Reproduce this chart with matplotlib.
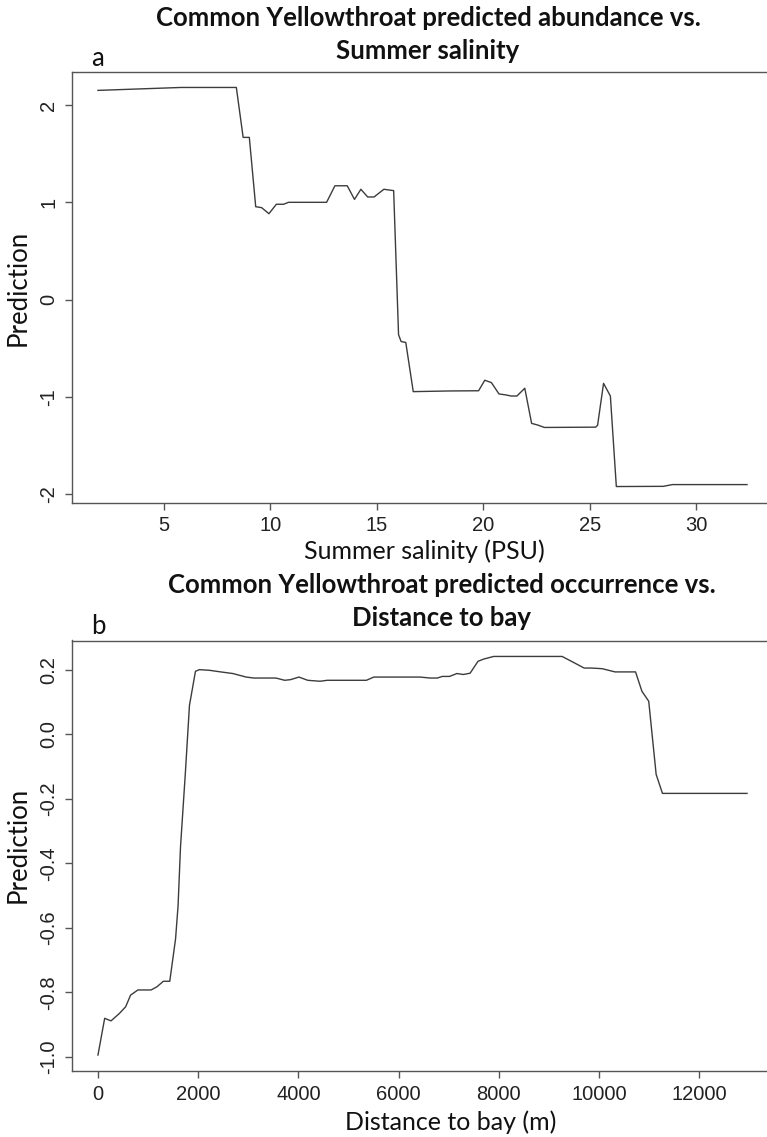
import numpy as np
import matplotlib
matplotlib.use("Agg")
import matplotlib.pyplot as plt

# panel a: summer salinity (PSU) vs predicted abundance
salinity = [1.9, 5.8, 8.4, 8.72, 9.01, 9.31, 9.59, 9.93, 10.28, 10.62, 10.85,
            12.64, 13.03, 13.61, 13.95, 14.25, 14.57, 14.87, 15.33, 15.79,
            16.02, 16.14, 16.36, 16.71, 18.43, 19.78, 20.07, 20.38, 20.74,
            21.07, 21.31, 21.58, 21.95, 22.27, 22.57, 22.87, 25.28, 25.37,
            25.65, 25.97, 26.25, 28.46, 28.88, 32.39]
abund = [2.15, 2.18, 2.18, 1.667, 1.667, 0.955, 0.945, 0.883, 0.98, 0.98, 1.0,
         1.0, 1.17, 1.17, 1.03, 1.134, 1.055, 1.055, 1.134, 1.12,
         -0.36, -0.43, -0.44, -0.945, -0.938, -0.936, -0.828, -0.852, -0.969,
         -0.979, -0.99, -0.99, -0.91, -1.271, -1.289, -1.313, -1.31, -1.29,
         -0.86, -0.99, -1.92, -1.918, -1.90, -1.90]

# panel b: distance to bay (m) vs predicted occurrence
dist = [0, 134, 260, 427, 553, 651, 797, 1061, 1178, 1305, 1433, 1549, 1599,
        1647, 1745, 1826, 1946, 2026, 2225, 2450, 2691, 2958, 3112, 3551,
        3727, 3844, 4010, 4186, 4431, 4577, 5357, 5505, 6431, 6627, 6774,
        6872, 7016, 7164, 7291, 7427, 7585, 7701, 7896, 9263, 9509, 9703,
        9850, 10064, 10319, 10729, 10856, 10992, 11140, 11266, 12954]
occur = [-0.995, -0.881, -0.889, -0.866, -0.845, -0.809, -0.793, -0.793,
         -0.783, -0.766, -0.766, -0.634, -0.531, -0.35, -0.118, 0.09, 0.196,
         0.201, 0.199, 0.194, 0.189, 0.178, 0.175, 0.175, 0.168, 0.17, 0.178,
         0.168, 0.165, 0.168, 0.168, 0.178, 0.178, 0.175, 0.175, 0.18, 0.18,
         0.189, 0.186, 0.19, 0.227, 0.234, 0.242, 0.242, 0.222, 0.206, 0.206,
         0.204, 0.194, 0.194, 0.134, 0.103, -0.124, -0.183, -0.183]

sal_ticks = [5, 10, 15, 20, 25, 30]
ab_ticks = [-2, -1, 0, 1, 2]
dist_ticks = [0, 2000, 4000, 6000, 8000, 10000, 12000]
occ_ticks = [-1.0, -0.8, -0.6, -0.4, -0.2, 0.0, 0.2]

W, H = 767, 1137
fig = plt.figure(figsize=(W / 100, H / 100), dpi=100)

line_col = "#3c3c3c"
axis_col = "#555555"
lab_font = "Lato"
tick_font = "Liberation Sans"


def px_axes(left, top, right, bottom):
    return fig.add_axes([left / W, 1 - bottom / H, (right - left) / W, (bottom - top) / H])


def style(ax, xticks, yticks, yfmt):
    for s in ax.spines.values():
        s.set_color(axis_col)
        s.set_linewidth(1.0)
    ax.set_xticks(xticks)
    ax.set_yticks(yticks)
    ax.set_yticklabels([yfmt(v) for v in yticks], rotation=90, va="center")
    ax.tick_params(direction="out", length=5, width=1.0, color=axis_col,
                   labelsize=14.5, labelcolor="#222222", pad=5)
    for t in ax.get_xticklabels() + ax.get_yticklabels():
        t.set_fontfamily(tick_font)


def rng(vals):
    lo, hi = min(vals), max(vals)
    d = (hi - lo) * 0.04
    return lo - d, hi + d


# ---- panel a
ax1 = px_axes(72, 71.5, 773, 502.5)
ax1.plot(salinity, abund, color=line_col, lw=1.0)
ax1.set_xlim(*rng(salinity))
ax1.set_ylim(*rng(abund))
style(ax1, sal_ticks, ab_ticks, lambda v: "%d" % v)

# ---- panel b
ax2 = px_axes(72, 640.5, 773, 1071)
ax2.plot(dist, occur, color=line_col, lw=1.0)
ax2.set_xlim(*rng(dist))
ax2.set_ylim(*rng(occur))
style(ax2, dist_ticks, occ_ticks, lambda v: "%.1f" % v)

# ---- texts
def ftext(x, y, s, **kw):
    fig.text(x / W, 1 - y / H, s, ha="center", va="center", color="#111111", **kw)

ftext(428, 18, "Common Yellowthroat predicted abundance vs.", fontsize=18.5,
      fontweight="bold", family=lab_font)
ftext(428, 51, "Summer salinity", fontsize=18.5, fontweight="bold", family=lab_font)
ftext(98, 58, "a", fontsize=18.5, family=lab_font)
ftext(424, 551, "Summer salinity (PSU)", fontsize=18, family=lab_font)
ftext(18, 288, "Prediction", fontsize=18.5, family=lab_font, rotation=90)

ftext(442, 585, "Common Yellowthroat predicted occurrence vs.", fontsize=18.5,
      fontweight="bold", family=lab_font)
ftext(442, 618, "Distance to bay", fontsize=18.5, fontweight="bold", family=lab_font)
ftext(98, 626, "b", fontsize=18.5, family=lab_font)
ftext(451, 1122, "Distance to bay (m)", fontsize=18, family=lab_font)
ftext(18, 845, "Prediction", fontsize=18.5, family=lab_font, rotation=90)

fig.savefig("out.png", dpi=100, facecolor="white")
